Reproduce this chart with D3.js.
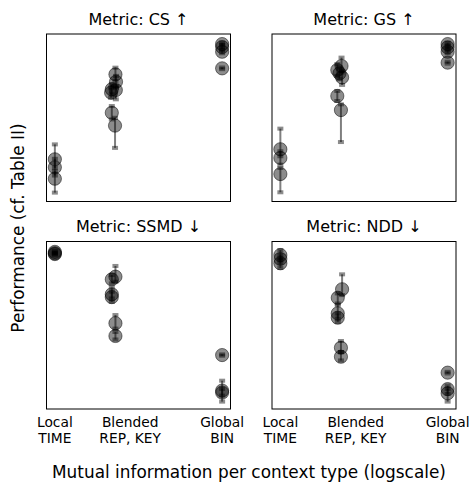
<!DOCTYPE html>
<html><head><meta charset="utf-8">
<script src="https://cdn.jsdelivr.net/npm/d3@7"></script>
<style>
body{margin:0;background:#fff;}
text{font-family:"DejaVu Sans",sans-serif;fill:#000;}
</style></head>
<body><svg id="c" width="472" height="483"></svg>
<script>
// ---- data ----
const metricTitles = ["Metric: CS \u2191", "Metric: GS \u2191", "Metric: SSMD \u2193", "Metric: NDD \u2193"];
const tickLabels = [["Local","TIME"],["Blended","REP, KEY"],["Global","BIN"]];
const tickMI = [0.001, 0.0224, 1];
// rows: [mutual information, mean, lower, upper] (performance in relative units)
const csRows = [
  [0.001, 25.2, 20.0, 34.1], [0.001, 20.4, 15.5, 25.5], [0.001, 13.6, 5.3, 18.0],
  [0.0122, 75.9, 72.0, 79.9], [0.0125, 71.5, 68.0, 75.0], [0.0105, 67.0, 64.0, 70.0],
  [0.0124, 66.5, 61.0, 69.0], [0.0102, 65.0, 62.0, 68.0], [0.0105, 53.0, 49.0, 57.0],
  [0.0120, 45.3, 32.0, 50.0],
  [1, 94.0, 93.2, 94.8], [1, 92.2, 91.0, 93.5], [1, 89.4, 88.5, 90.5], [1, 79.5, 79.0, 80.0]
];
const gsRows = [
  [0.001, 31.2, 27.0, 43.5], [0.001, 26.0, 22.0, 30.0], [0.001, 16.4, 5.5, 20.0],
  [0.0125, 80.9, 77.0, 85.9], [0.0105, 78.5, 75.0, 82.0], [0.0115, 76.5, 73.0, 80.0],
  [0.0128, 74.1, 69.6, 78.0], [0.0105, 63.0, 60.0, 66.0], [0.0122, 54.6, 35.5, 58.0],
  [1, 94.0, 93.0, 94.8], [1, 92.0, 91.0, 93.0], [1, 89.4, 88.5, 90.5], [1, 82.9, 82.3, 83.5]
];
const ssmdRows = [
  [0.001, 93.8, 93.3, 94.3], [0.001, 93.0, 92.5, 93.5], [0.001, 92.5, 92.0, 93.0],
  [0.0122, 79.0, 76.0, 85.4], [0.0105, 77.4, 75.0, 80.0], [0.0105, 68.5, 66.0, 72.4],
  [0.0105, 66.8, 64.0, 70.0], [0.0122, 51.2, 48.0, 56.1], [0.0122, 43.6, 41.5, 46.0],
  [1, 32.2, 31.8, 32.6], [1, 11.0, 8.0, 16.9], [1, 9.8, 4.4, 12.0]
];
const nddRows = [
  [0.001, 91.9, 89.0, 94.9], [0.001, 89.6, 87.0, 92.0], [0.001, 87.0, 84.2, 90.0],
  [0.0128, 71.5, 68.0, 80.4], [0.0107, 66.4, 63.0, 69.0], [0.0107, 57.1, 54.0, 62.1],
  [0.0107, 54.5, 52.0, 57.0], [0.0122, 36.6, 34.0, 40.6], [0.0122, 31.2, 29.0, 34.0],
  [1, 21.7, 21.2, 22.2], [1, 11.9, 9.0, 14.0], [1, 9.4, 4.4, 12.0]
];
const panelRows = [csRows, gsRows, ssmdRows, nddRows];

// ---- layout ----
const svg = d3.select("#c");
const colX = [46.5, 272], pw = 184;
const rowY = [34, 241.5], ph = 167.5;

const logMin = Math.log10(d3.min(tickMI)), logMax = Math.log10(d3.max(tickMI));
const pad = (logMax - logMin) * 0.05;

panelRows.forEach((rows, i) => {
  const x0 = colX[i % 2], y0 = rowY[Math.floor(i / 2)];
  const g = svg.append("g").attr("transform", `translate(${x0},${y0})`);
  const x = d3.scaleLog().domain([Math.pow(10, logMin - pad), Math.pow(10, logMax + pad)]).range([0, pw]);
  const y = d3.scaleLinear().domain([0, 100]).range([ph, 0]);

  // error bars
  rows.forEach(r => {
    const cx = x(r[0]);
    g.append("line").attr("x1", cx).attr("x2", cx).attr("y1", y(r[2])).attr("y2", y(r[3]))
      .attr("stroke", "#000").attr("stroke-opacity", 0.5).attr("stroke-width", 2);
    [r[2], r[3]].forEach(v => {
      g.append("rect").attr("x", cx - 3).attr("y", y(v) - 2).attr("width", 6).attr("height", 4)
        .attr("fill", "#000").attr("fill-opacity", 0.45);
    });
  });
  // markers
  g.selectAll("circle.m").data(rows).join("circle").attr("class", "m")
    .attr("cx", d => x(d[0])).attr("cy", d => y(d[1])).attr("r", 6.6)
    .attr("fill", "#000").attr("fill-opacity", 0.45)
    .attr("stroke", "#000").attr("stroke-opacity", 0.5).attr("stroke-width", 1);

  // frame
  g.append("rect").attr("x", 0).attr("y", 0).attr("width", pw).attr("height", ph)
    .attr("fill", "none").attr("stroke", "#000").attr("stroke-width", 1);

  // title
  g.append("text").attr("x", pw / 2).attr("y", -9.5).attr("text-anchor", "middle")
    .style("font-size", "16px").text(metricTitles[i]);

  // bottom tick labels
  if (i >= 2) {
    tickMI.forEach((m, k) => {
      const t = g.append("text").attr("text-anchor", "middle").style("font-size", "13.8px")
        .attr("transform", `translate(${x(m)},${ph + 18})`);
      tickLabels[k].forEach((s, j) => t.append("tspan").attr("x", 0).attr("y", j * 15.5).text(s));
    });
  }
});

svg.append("text").attr("x", 249).attr("y", 478).attr("text-anchor", "middle")
  .style("font-size", "16.9px").text("Mutual information per context type (logscale)");
svg.append("text").attr("transform", "translate(24,228) rotate(-90)").attr("text-anchor", "middle")
  .style("font-size", "16.9px").text("Performance (cf. Table II)");
</script></body></html>
